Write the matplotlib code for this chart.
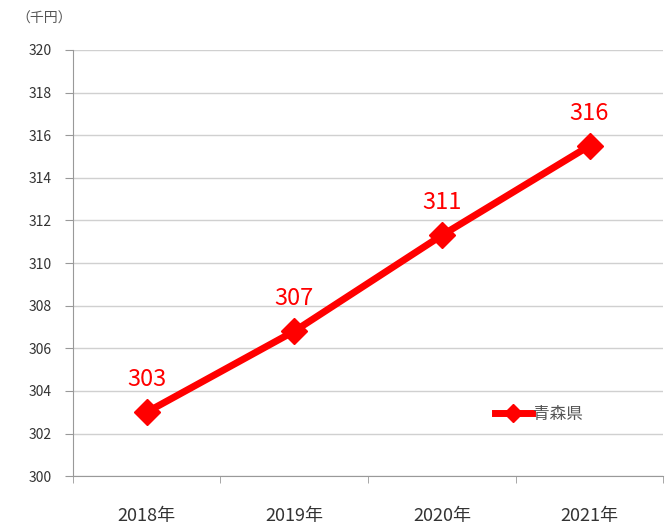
import matplotlib.pyplot as plt

plt.rcParams['font.family'] = ['Noto Sans CJK JP', 'DejaVu Sans']

years = ['2018年', '2019年', '2020年', '2021年']
income = [303.0, 306.8, 311.3, 315.5]
pref = '青森県'

fig = plt.figure(figsize=(6.68, 5.25), dpi=100)
ax = fig.add_axes([0.109, 0.093, 0.884, 0.812])

x = list(range(len(years)))
ax.plot(x, income, color='#ff0000', lw=5, marker='D', ms=13,
        label=pref, zorder=3)
for xi, v in zip(x, income):
    ax.annotate(f'{v:.0f}', (xi, v), xytext=(0, 15), textcoords='offset points',
                ha='center', va='bottom', color='#ff0000', fontsize=17)

ax.set_xlim(-0.5, 3.5)
ax.set_ylim(300, 320)
ax.set_yticks(range(300, 321, 2))
ax.set_xticks(x)
ax.set_xticklabels(years, fontsize=13, color='#333333')
ax.set_xticks([-0.5, 0.5, 1.5, 2.5, 3.5], minor=True)
ax.tick_params(axis='x', which='major', length=0, pad=22)
ax.tick_params(axis='x', which='minor', length=5, color='#999999')
ax.tick_params(axis='y', labelsize=10, labelcolor='#333333', length=6,
               color='#999999', pad=9)

ax.grid(axis='y', color='#d0d0d0', lw=1)
ax.set_axisbelow(True)
for s in ['top', 'right']:
    ax.spines[s].set_visible(False)
for s in ['left', 'bottom']:
    ax.spines[s].set_color('#999999')

fig.text(0.025, 0.965, '（千円）', fontsize=10, color='#555555', va='center')

ax.legend(loc='lower right', bbox_to_anchor=(0.89, 0.09), frameon=False,
          fontsize=12, handlelength=2.2, handletextpad=0.1,
          markerscale=0.7, labelcolor='#555555')

plt.savefig('out.png', dpi=100)
